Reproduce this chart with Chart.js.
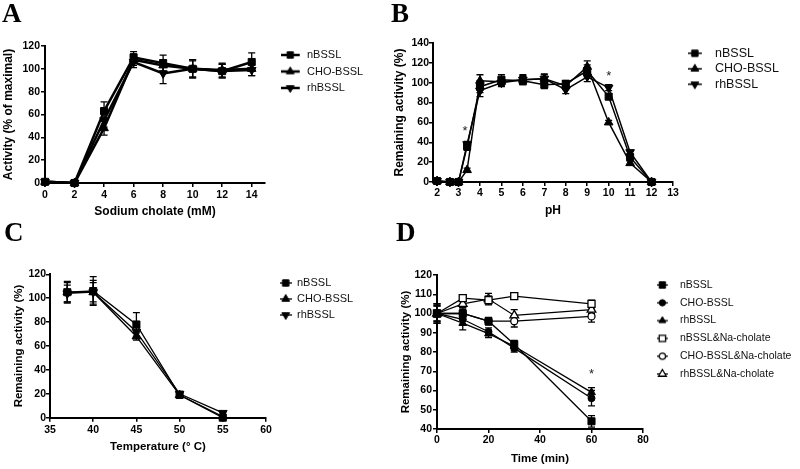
<!DOCTYPE html>
<html>
<head>
<meta charset="utf-8">
<script src="https://cdn.jsdelivr.net/npm/chart.js@4.4.1/dist/chart.umd.min.js"></script>
<style>
  html, body { margin: 0; padding: 0; background: #fff; }
  #wrap { position: relative; width: 800px; height: 469px; overflow: hidden; }
  #wrap canvas { position: absolute; left: 0; top: 0; }
  .tag { position: absolute; font: bold 27px "Liberation Serif", "Times New Roman", serif; line-height: 27px; color: #000; }
</style>
</head>
<body>
<div id="wrap">
  <canvas id="chA" width="800" height="469"></canvas>
  <canvas id="chB" width="800" height="469"></canvas>
  <canvas id="chC" width="800" height="469"></canvas>
  <canvas id="chD" width="800" height="469"></canvas>
  <div class="tag" style="left:2px;top:0px">A</div>
  <div class="tag" style="left:391px;top:0px">B</div>
  <div class="tag" style="left:4px;top:219px">C</div>
  <div class="tag" style="left:396px;top:219px">D</div>
</div>
<script>
// ---- data ----
const namesABC = ["nBSSL", "CHO-BSSL", "rhBSSL"];
const namesD = ["nBSSL", "CHO-BSSL", "rhBSSL", "nBSSL&Na-cholate", "CHO-BSSL&Na-cholate", "rhBSSL&Na-cholate"];

// A: sodium cholate
const cholateX = [0, 2, 4, 6, 8, 10, 12, 14];
const A_n      = [1, 0, 63, 110, 105, 100, 98, 106];
const A_nErr   = [0, 0, 8, 5, 7, 8, 6, 8];
const A_cho    = [1, 0, 48, 108, 103, 100, 99, 100];
const A_choErr = [0, 0, 6, 5, 5, 8, 6, 6];
const A_rh     = [1, 0, 55, 106, 96, 100, 98, 99];
const A_rhErr  = [0, 0, 6, 5, 9, 7, 6, 5];
const A_xTicks = [0, 2, 4, 6, 8, 10, 12, 14];
const A_yTicks = [0, 20, 40, 60, 80, 100, 120];

// B: pH
const phX      = [2, 2.6, 3, 3.4, 4, 5, 6, 7, 8, 9, 10, 11, 12];
const B_n      = [1, 0, 0, 36, 96, 103, 102, 98, 99, 112, 86, 25, 0];
const B_nErr   = [0, 0, 0, 4, 6, 5, 4, 4, 3, 6, 3, 3, 0];
const B_cho    = [1, 0, 0, 12, 102, 101, 103, 104, 97, 116, 60, 19, 0];
const B_choErr = [0, 0, 0, 2, 6, 4, 4, 4, 4, 6, 2, 2, 0];
const B_rh     = [1, 0, 0, 38, 92, 100, 103, 104, 93, 106, 95, 30, 0];
const B_rhErr  = [0, 0, 0, 3, 6, 4, 5, 5, 4, 5, 3, 2, 0];
const B_stars  = [{ x: 3.3, y: 54 }, { x: 10, y: 109 }];
const B_xTicks = [2, 3, 4, 5, 6, 7, 8, 9, 10, 11, 12, 13];
const B_yTicks = [0, 20, 40, 60, 80, 100, 120, 140];

// C: temperature
const tempX    = [37, 40, 45, 50, 55];
const C_n      = [105, 106, 78, 19, 0];
const C_nErr   = [9, 12, 10, 2, 0];
const C_cho    = [105, 105, 68, 19, 1];
const C_choErr = [8, 10, 3, 2, 0];
const C_rh     = [104, 105, 72, 20, 4];
const C_rhErr  = [7, 8, 4, 2, 1];
const C_xTicks = [35, 40, 45, 50, 55, 60];
const C_yTicks = [0, 20, 40, 60, 80, 100, 120];

// D: time
const timeX      = [0, 10, 20, 30, 60];
const D_n        = [100, 100, 96, 84, 44];
const D_nErr     = [5, 3, 2, 2, 3];
const D_cho      = [100, 97, 90.5, 82, 56];
const D_choErr   = [5, 3, 2, 2, 4];
const D_rh       = [100, 95, 89.5, 83, 59];
const D_rhErr    = [5, 3.5, 2, 2, 2.5];
const D_nNa      = [100, 108, 107, 109, 105];
const D_nNaErr   = [4, 1.5, 2, 1.5, 2];
const D_choNa    = [100, 100, 96, 96, 98.5];
const D_choNaErr = [4, 2, 1.5, 3, 3];
const D_rhNa     = [100, 105, 107.5, 99, 102];
const D_rhNaErr  = [4, 2, 3, 3, 2];
const D_stars    = [{ x: 60, y: 70 }];
const D_xTicks   = [0, 20, 40, 60, 80];
const D_yTicks   = [40, 50, 60, 70, 80, 90, 100, 110, 120];

// ---- helpers ----
Chart.defaults.font.family = 'Arial, "Liberation Sans", sans-serif';
const H = Chart.helpers;

const mkSquare = { style: "rect", radius: 5, fill: "#000", border: 1 };
const mkUp = { style: "triangle", radius: 5, fill: "#000", border: 1 };
const mkDown = { style: "triangle", radius: 5, rotation: 180, fill: "#000", border: 1 };
const mkDot = { style: "circle", radius: 3.5, fill: "#000", border: 1 };
const mkUpSmall = { style: "triangle", radius: 4.5, fill: "#000", border: 1 };
const mkSquareOpen = { style: "rect", radius: 5, fill: "#fff", border: 1.3 };
const mkDotOpen = { style: "circle", radius: 3.5, fill: "#fff", border: 1.3 };
const mkUpOpen = { style: "triangle", radius: 5, fill: "#fff", border: 1.3 };

function pts(xs, ys) {
  return xs.map((x, i) => ({ x: x, y: ys[i] }));
}

function series(label, xs, ys, errs, mk, lw) {
  return {
    label: label,
    data: pts(xs, ys),
    errors: errs,
    mk: mk,
    lw: lw,
    borderColor: "#000",
    borderWidth: lw,
    fill: false,
    tension: 0,
    clip: false,
    pointStyle: mk.style,
    pointRadius: mk.radius,
    pointRotation: mk.rotation || 0,
    pointBackgroundColor: mk.fill,
    pointBorderColor: "#000",
    pointBorderWidth: mk.border
  };
}

// small line+marker picture for a legend entry
function makeIcon(w, lineLen, lineW, mk) {
  const c = document.createElement("canvas");
  c.width = Math.round(w);
  c.height = 14;
  const g = c.getContext("2d");
  g.strokeStyle = "#000";
  g.lineWidth = lineW;
  g.beginPath();
  g.moveTo(0, 7);
  g.lineTo(lineLen, 7);
  g.stroke();
  g.fillStyle = mk.fill;
  g.lineWidth = mk.border;
  H.drawPoint(g, { pointStyle: mk.style, radius: mk.radius * 0.9, rotation: mk.rotation || 0, borderWidth: mk.border }, lineLen / 2, 7);
  return c;
}

const errorBars = {
  id: "errorBars",
  beforeDatasetsDraw(chart) {
    const ctx = chart.ctx;
    const ys = chart.scales.y;
    chart.data.datasets.forEach((ds, i) => {
      if (!ds.errors) return;
      const meta = chart.getDatasetMeta(i);
      ctx.save();
      ctx.strokeStyle = "#000";
      ctx.lineWidth = 1.3;
      meta.data.forEach((pt, j) => {
        const e = ds.errors[j];
        if (!e) return;
        const v = ds.data[j].y;
        const top = ys.getPixelForValue(v + e);
        const bot = ys.getPixelForValue(v - e);
        const x = pt.x;
        ctx.beginPath();
        ctx.moveTo(x, top); ctx.lineTo(x, bot);
        ctx.moveTo(x - 3.5, top); ctx.lineTo(x + 3.5, top);
        ctx.moveTo(x - 3.5, bot); ctx.lineTo(x + 3.5, bot);
        ctx.stroke();
      });
      ctx.restore();
    });
  }
};

// put the legend block where the figure has it
const legendMover = {
  id: "legendMover",
  afterLayout(chart, args, opts) {
    const lg = chart.legend;
    if (!lg || opts.left == null) return;
    lg.left = opts.left;
    lg.top = opts.top;
    lg.width = 260;
    lg.height = 200;
    lg.right = opts.left + 260;
    lg.bottom = opts.top + 200;
  }
};

const starMarks = {
  id: "starMarks",
  afterDatasetsDraw(chart, args, opts) {
    if (!opts.points) return;
    const ctx = chart.ctx;
    ctx.save();
    ctx.font = "13px Arial, 'Liberation Sans', sans-serif";
    ctx.fillStyle = "#222";
    ctx.textAlign = "center";
    ctx.textBaseline = "middle";
    opts.points.forEach(p => {
      ctx.fillText("*", chart.scales.x.getPixelForValue(p.x), chart.scales.y.getPixelForValue(p.y) + 3);
    });
    ctx.restore();
  }
};

function axis(min, max, ticks, title, titleSize, tickPad, size, isX) {
  return {
    type: "linear",
    min: min,
    max: max,
    afterBuildTicks: s => { s.ticks = ticks.map(v => ({ value: v })); },
    afterFit: s => { if (isX) s.height = size; else s.width = size; },
    ticks: { color: "#000", font: { size: 10.5, weight: "bold" }, padding: tickPad, maxRotation: 0, autoSkip: false },
    grid: { drawOnChartArea: false, color: "#000", lineWidth: 1.5, tickLength: 4 },
    border: { color: "#000", width: 2 },
    title: { display: true, text: title, color: "#000", font: { size: titleSize, weight: "bold" }, padding: 0 }
  };
}

function panel(id, cfg) {
  const icons = cfg.datasets.map(ds => makeIcon(cfg.leg.box, cfg.leg.line, ds.lw, ds.mk));
  return new Chart(document.getElementById(id), {
    type: "line",
    data: { datasets: cfg.datasets },
    options: {
      responsive: false,
      animation: false,
      events: [],
      layout: { padding: cfg.pad },
      scales: { x: cfg.x, y: cfg.y },
      plugins: {
        legend: {
          position: "chartArea",
          align: "start",
          labels: {
            usePointStyle: true,
            pointStyleWidth: cfg.leg.box,
            color: "#111",
            padding: cfg.leg.pad,
            font: { size: cfg.leg.font },
            generateLabels: chart => chart.data.datasets.map((ds, i) => ({
              text: ds.label,
              datasetIndex: i,
              pointStyle: icons[i],
              rotation: 0,
              lineWidth: 0,
              hidden: false,
              fontColor: "#111"
            }))
          }
        },
        tooltip: { enabled: false },
        legendMover: { left: cfg.leg.left - cfg.leg.pad, top: cfg.leg.top - cfg.leg.font / 2 - cfg.leg.pad },
        starMarks: { points: cfg.stars || null }
      }
    },
    plugins: [errorBars, legendMover, starMarks]
  });
}

// ---- panels ----
panel("chA", {
  datasets: [
    series(namesABC[0], cholateX, A_n, A_nErr, mkSquare, 2.5),
    series(namesABC[1], cholateX, A_cho, A_choErr, mkUp, 2.5),
    series(namesABC[2], cholateX, A_rh, A_rhErr, mkDown, 2.5)
  ],
  pad: { left: 1.8, right: 535, top: 46, bottom: 249.8 },
  x: axis(0, 14.9, A_xTicks, "Sodium cholate (mM)", 12, 2, 36.2, true),
  y: axis(0, 120, A_yTicks, "Activity (% of maximal)", 12, 1, 43.2, false),
  leg: { left: 281, top: 55, font: 11, pad: 5.5, box: 20.5, line: 19 }
});

panel("chB", {
  datasets: [
    series(namesABC[0], phX, B_n, B_nErr, mkSquare, 1.5),
    series(namesABC[1], phX, B_cho, B_choErr, mkUp, 1.5),
    series(namesABC[2], phX, B_rh, B_rhErr, mkDown, 1.5)
  ],
  pad: { left: 392.8, right: 127, top: 43, bottom: 250.8 },
  x: axis(1.81, 13, B_xTicks, "pH", 12, 0.5, 36.2, true),
  y: axis(0, 140, B_yTicks, "Remaining activity (%)", 12, 0, 40.2, false),
  leg: { left: 688, top: 53.3, font: 12.5, pad: 3, box: 20.75, line: 14 },
  stars: B_stars
});

panel("chC", {
  datasets: [
    series(namesABC[0], tempX, C_n, C_nErr, mkSquare, 1.3),
    series(namesABC[1], tempX, C_cho, C_choErr, mkUp, 1.3),
    series(namesABC[2], tempX, C_rh, C_rhErr, mkDown, 1.3)
  ],
  pad: { left: 11.8, right: 534, top: 274.3, bottom: 15.1 },
  x: axis(35, 60, C_xTicks, "Temperature (° C)", 11.5, 2, 36.2, true),
  y: axis(0, 120, C_yTicks, "Remaining activity (%)", 11.5, 0, 38.2, false),
  leg: { left: 280, top: 283, font: 11, pad: 5, box: 11.5, line: 12 }
});

panel("chD", {
  datasets: [
    series(namesD[0], timeX, D_n, D_nErr, mkSquare, 1.3),
    series(namesD[1], timeX, D_cho, D_choErr, mkDot, 1.3),
    series(namesD[2], timeX, D_rh, D_rhErr, mkUpSmall, 1.3),
    series(namesD[3], timeX, D_nNa, D_nNaErr, mkSquareOpen, 1.3),
    series(namesD[4], timeX, D_choNa, D_choNaErr, mkDotOpen, 1.3),
    series(namesD[5], timeX, D_rhNa, D_rhNaErr, mkUpOpen, 1.3)
  ],
  pad: { left: 398.8, right: 157, top: 275, bottom: 2.8 },
  x: axis(0, 80, D_xTicks, "Time (min)", 11.5, 1, 37.2, true),
  y: axis(40, 120, D_yTicks, "Remaining activity (%)", 11.5, 1, 38.2, false),
  leg: { left: 657, top: 285, font: 10.5, pad: 7.3, box: 17.75, line: 11 },
  stars: D_stars
});
</script>
</body>
</html>
